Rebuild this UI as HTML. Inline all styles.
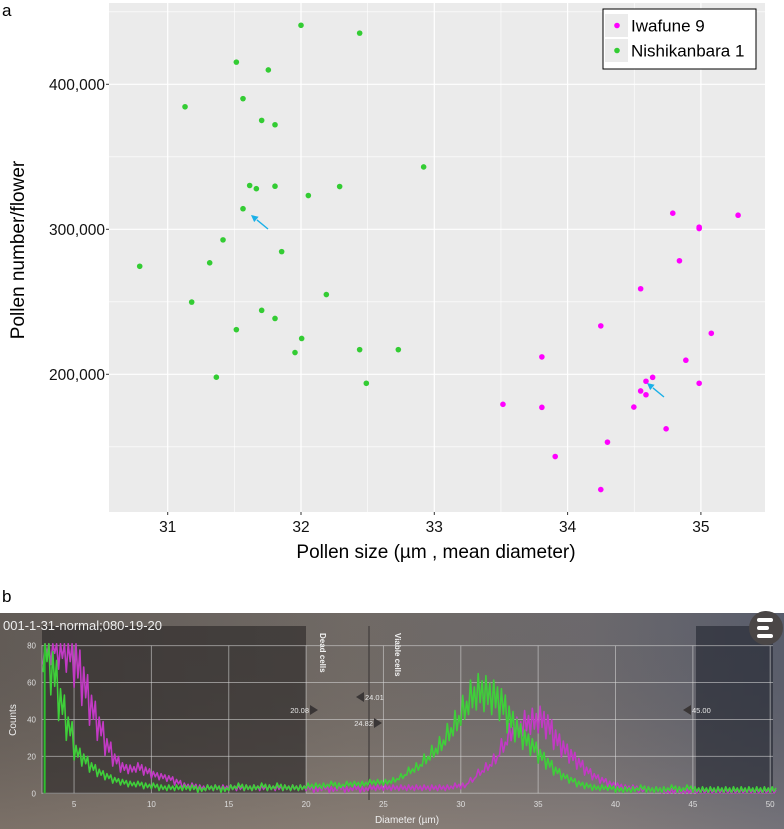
<!DOCTYPE html>
<html><head><meta charset="utf-8"><style>
html,body{margin:0;padding:0;background:#fff;}
body{width:784px;height:829px;overflow:hidden;font-family:"Liberation Sans",sans-serif;}
svg{display:block;position:absolute;left:0;top:0;}
</style></head><body>
<svg id="chart" width="784" height="829" viewBox="0 0 784 829">
<defs>
<linearGradient id="bgA" x1="0" y1="0" x2="1" y2="0">
<stop offset="0" stop-color="#6a635e"/><stop offset="0.45" stop-color="#7a736e"/><stop offset="0.75" stop-color="#757276"/><stop offset="1" stop-color="#606575"/>
</linearGradient>
<linearGradient id="bgB" x1="0" y1="0" x2="0" y2="1">
<stop offset="0" stop-color="#000" stop-opacity="0.08"/><stop offset="1" stop-color="#b09a86" stop-opacity="0.25"/>
</linearGradient>
</defs>
<g id="panelA"></g>
<g id="panelB"></g>
</svg>
<script>
// ---------- Panel a data ----------
const nishiX = [32.0,32.44,31.515,31.755,31.565,31.13,31.705,31.805,31.615,31.665,31.805,32.29,32.055,31.565,31.415,31.855,30.79,31.315,31.18,32.19,31.705,31.805,31.515,32.005,31.955,32.44,32.73,31.365,32.49,32.92];
const nishiY = [440700,435300,415300,409900,390100,384500,375100,372100,330200,328000,329700,329500,323300,314200,292700,284600,274500,276900,249800,255000,244100,238500,230800,224700,215000,217000,217000,198000,193800,343000];
const iwaX = [34.789,35.279,34.987,34.987,34.839,34.548,34.249,35.078,33.807,34.887,34.638,34.588,34.987,34.548,34.588,33.515,33.807,34.497,34.739,34.299,33.907,34.249];
const iwaY = [311100,309700,301500,300500,278300,259000,233400,228300,212000,209700,197900,195200,193800,188500,185900,179300,177200,177400,162400,153200,143300,120500];
const xTicksA = [31,32,33,34,35];
const yTicksA = [200000,300000,400000];
const yTickLabelsA = ["200,000","300,000","400,000"];
const legendLabels = ["Iwafune 9","Nishikanbara 1"];

// ---------- Panel b data (diameter bins every 0.5 µm from 3.0) ----------
const binStart = 3.0, binStep = 0.5;
const greenCounts = [80,65,48,35,22,18,14,11,9,7, 6,5,5,4,4,
 3,3,3,3,3,2,3,3,2,3,4,3,3,4,3,4,3,3,3,4,
 4,4,5,4,5,5,5,6,6,6,
 7,9,12,14,18,22,26,32,38,45,
 52,55,54,52,48,40,34,29,25,20,
 16,12,9,7,5,4,3,3,3,2,
 2,2,3,2,2,2,3,2,3,2,2,2,2,2,2,2,2,2,2,2];
const magentaCounts = [85,85,82,80,70,58,45,35,25,18, 14,13,14,12,10,
 9,8,6,4,4,3,3,3,3,3,3,3,3,3,3,3,3,3,3,3,
 2,3,2,3,2,3,2,3,3,3,
 3,3,3,3,3,3,3,3,4,4,
 7,11,14,18,25,32,35,38,39,40,
 36,29,24,20,16,12,9,7,5,4,
 3,3,2,2,2,1,1,1,1,1,1,1,1,1,1,1,1,1,1,1];
const xTicksB = [5,10,15,20,25,30,35,40,45,50];
const yTicksB = [0,20,40,60,80];

const NS="http://www.w3.org/2000/svg";
function mk(tag, attrs, parent, text){
  const e=document.createElementNS(NS,tag);
  for(const k in attrs) e.setAttribute(k,attrs[k]);
  if(text!==undefined) e.textContent=text;
  parent.appendChild(e); return e;
}
// ===== Panel a =====
const A=document.getElementById('panelA');
const ax={l:109,r:765,t:3,b:512};
const xA=v=>167.7+(v-31)*133.3;
const yA=v=>84.3+(400000-v)/100000*145;
let el;
el=mk('text',{x:2,y:16,'font-size':17,fill:'#000'},A,'a');


el=mk('rect',{x:ax.l,y:ax.t,width:ax.r-ax.l,height:ax.b-ax.t,fill:'#ebebeb'},A);


[150000,250000,350000,450000].forEach(v=>{
  el=mk('line',{x1:ax.l,x2:ax.r,y1:yA(v),y2:yA(v),stroke:'#fff','stroke-width':0.6},A);
  
  
});
[31.5,32.5,33.5,34.5].forEach(v=>{
  el=mk('line',{x1:xA(v),x2:xA(v),y1:ax.t,y2:ax.b,stroke:'#fff','stroke-width':0.6},A);
  
  
});
yTicksA.forEach((v,i)=>{
  el=mk('line',{x1:ax.l,x2:ax.r,y1:yA(v),y2:yA(v),stroke:'#fff','stroke-width':1.2},A);
  
  
  mk('line',{x1:ax.l-3,x2:ax.l,y1:yA(v),y2:yA(v),stroke:'#333','stroke-width':1},A);
  el=mk('text',{x:ax.l-4,y:yA(v)+5.5,'font-size':15.5,'text-anchor':'end',fill:'#111'},A,yTickLabelsA[i]);
  
  
});
xTicksA.forEach(v=>{
  el=mk('line',{x1:xA(v),x2:xA(v),y1:ax.t,y2:ax.b,stroke:'#fff','stroke-width':1.2},A);
  
  
  mk('line',{x1:xA(v),x2:xA(v),y1:ax.b,y2:ax.b+3,stroke:'#333','stroke-width':1},A);
  el=mk('text',{x:xA(v),y:532,'font-size':15.5,'text-anchor':'middle',fill:'#111'},A,String(v));
  
  
});
el=mk('text',{x:436,y:558,'font-size':19,'text-anchor':'middle',fill:'#000'},A,'Pollen size (µm , mean diameter)');


el=mk('text',{x:0,y:0,'font-size':19,'text-anchor':'middle',fill:'#000',transform:'translate(24,250) rotate(-90)'},A,'Pollen number/flower');


nishiX.forEach((v,i)=>{
  el=mk('circle',{cx:xA(v),cy:yA(nishiY[i]),r:2.8,fill:'#33cc33'},A);
  
  
});
iwaX.forEach((v,i)=>{
  el=mk('circle',{cx:xA(v),cy:yA(iwaY[i]),r:2.8,fill:'#ff00ff'},A);
  
  
});
function arrow(x1,y1,x2,y2,name){
  const g=mk('g',{},A);
  
  
  mk('line',{x1:x1,y1:y1,x2:x2+(x1-x2)*0.35,y2:y2+(y1-y2)*0.35,stroke:'#1ab0e8','stroke-width':1.4},g);
  const dx=x1-x2,dy=y1-y2,L=Math.hypot(dx,dy),ux=dx/L,uy=dy/L;
  const bx=x2+ux*7,by=y2+uy*7;
  mk('polygon',{points:`${x2},${y2} ${bx-uy*3.5},${by+ux*3.5} ${bx+uy*3.5},${by-ux*3.5}`,fill:'#1ab0e8'},g);
}
arrow(268,229,251,215,'arrow-nishikanbara');
arrow(664,397,647,383,'arrow-iwafune');
const lg=mk('g',{},A);


mk('rect',{x:603,y:9,width:153,height:60,fill:'#fff',stroke:'#000','stroke-width':1},lg);
const lcol=['#ff00ff','#33cc33'];
legendLabels.forEach((t,i)=>{
  const ly=14+i*25;
  mk('rect',{x:605,y:ly,width:23,height:23,fill:'#ebebeb'},lg);
  el=mk('circle',{cx:617,cy:ly+11.5,r:2.8,fill:lcol[i]},lg);
  
  
  el=mk('text',{x:631,y:ly+17.5,'font-size':17,fill:'#000'},lg,t);
  
  
});

// ===== Panel b =====
const B=document.getElementById('panelB');
const xB=v=>-3.3+v*15.47;
const yB=v=>793.3-Math.min(v,81)*1.846;
el=mk('text',{x:2,y:602,'font-size':17,fill:'#000'},B,'b');


el=mk('rect',{x:0,y:613,width:784,height:216,fill:'url(#bgA)'},B);


mk('rect',{x:0,y:613,width:784,height:216,fill:'url(#bgB)'},B);
el=mk('rect',{x:42,y:626,width:264,height:168,fill:'#2a2626','fill-opacity':0.62},B);


el=mk('rect',{x:696,y:626,width:77,height:168,fill:'#22252e','fill-opacity':0.6},B);


yTicksB.forEach(v=>{
  el=mk('line',{x1:42,x2:773,y1:yB(v),y2:yB(v),stroke:'#d8d8d8','stroke-opacity':0.55,'stroke-width':1},B);
  
  
  el=mk('text',{x:36,y:yB(v)+3,'font-size':8,'text-anchor':'end',fill:'#ddd'},B,String(v));
  
  
});
xTicksB.forEach(v=>{
  el=mk('line',{x1:xB(v),x2:xB(v),y1:645.7,y2:793.3,stroke:'#d8d8d8','stroke-opacity':0.55,'stroke-width':1},B);
  
  
  el=mk('text',{x:xB(v),y:807,'font-size':8,'text-anchor':'middle',fill:'#ddd'},B,String(v));
  
  
});
mk('line',{x1:42,x2:42,y1:645,y2:794,stroke:'#ccc','stroke-opacity':0.6},B);
el=mk('line',{x1:369,x2:369,y1:626,y2:800,stroke:'#3a3636','stroke-width':1.3,'stroke-opacity':0.8},B);


el=mk('text',{x:3,y:630,'font-size':13,fill:'#eee'},B,'001-1-31-normal;080-19-20');


el=mk('text',{x:0,y:0,'font-size':10,'text-anchor':'middle',fill:'#eee',transform:'translate(16,720) rotate(-90)'},B,'Counts');


el=mk('text',{x:407,y:823,'font-size':10,'text-anchor':'middle',fill:'#eee'},B,'Diameter (µm)');


el=mk('text',{x:0,y:0,'font-size':8,'font-weight':'bold',fill:'#f2f2f2',transform:'translate(320,633) rotate(90)'},B,'Dead cells');


el=mk('text',{x:0,y:0,'font-size':8,'font-weight':'bold',fill:'#f2f2f2',transform:'translate(395,633) rotate(90)'},B,'Viable cells');


function marker(tipX,y,dir,label,name){
  const g=mk('g',{},B);
  
  
  if(dir>0){
    mk('polygon',{points:`${tipX},${y} ${tipX-8},${y-5} ${tipX-8},${y+5}`,fill:'#3a3636'},g);
    mk('text',{x:tipX-9,y:y+3,'font-size':7.5,'text-anchor':'end',fill:'#e8e8e8'},g,label);
  }else{
    mk('polygon',{points:`${tipX},${y} ${tipX+8},${y-5} ${tipX+8},${y+5}`,fill:'#3a3636'},g);
    mk('text',{x:tipX+9,y:y+3,'font-size':7.5,fill:'#e8e8e8'},g,label);
  }
}
marker(318,710,1,'20.08','marker-20-08');
marker(356,697,-1,'24.01','marker-24-01');
marker(382,723,1,'24.82','marker-24-82');
marker(683,710,-1,'45.00','marker-45-00');
function series(arr,color,name){
  let pts=[];
  arr.forEach((v,i)=>{
    const x=xB(binStart+i*binStep);
    const amp=Math.max(1.5,v*0.18);
    for(let k=0;k<4;k++){
      const vv=v+((k%2)?amp:-amp)*(k<2?1:0.6);
      pts.push(`${(x+k*binStep*15.47/4).toFixed(1)},${yB(Math.max(0,vv)).toFixed(1)}`);
    }
  });
  el=mk('polyline',{points:pts.join(' '),fill:'none',stroke:color,'stroke-width':1.6,'stroke-linejoin':'round'},B);
  
  
}
series(magentaCounts,'#c23ac4','series-iwafune-histogram');
series(greenCounts,'#3fcf3a','series-nishikanbara-histogram');
el=mk('line',{x1:xB(3.1),x2:xB(3.1),y1:yB(0),y2:yB(greenCounts[0]),stroke:'#2fbf2f','stroke-width':2},B);


const mg=mk('g',{},B);


mk('circle',{cx:766,cy:628,r:17,fill:'#4a4646'},mg);
[620,628,636].forEach((y,i)=>mk('rect',{x:757,y:y-2,width:i==1?12:16,height:4,rx:2,fill:'#fff'},mg));
</script>
</body></html>
